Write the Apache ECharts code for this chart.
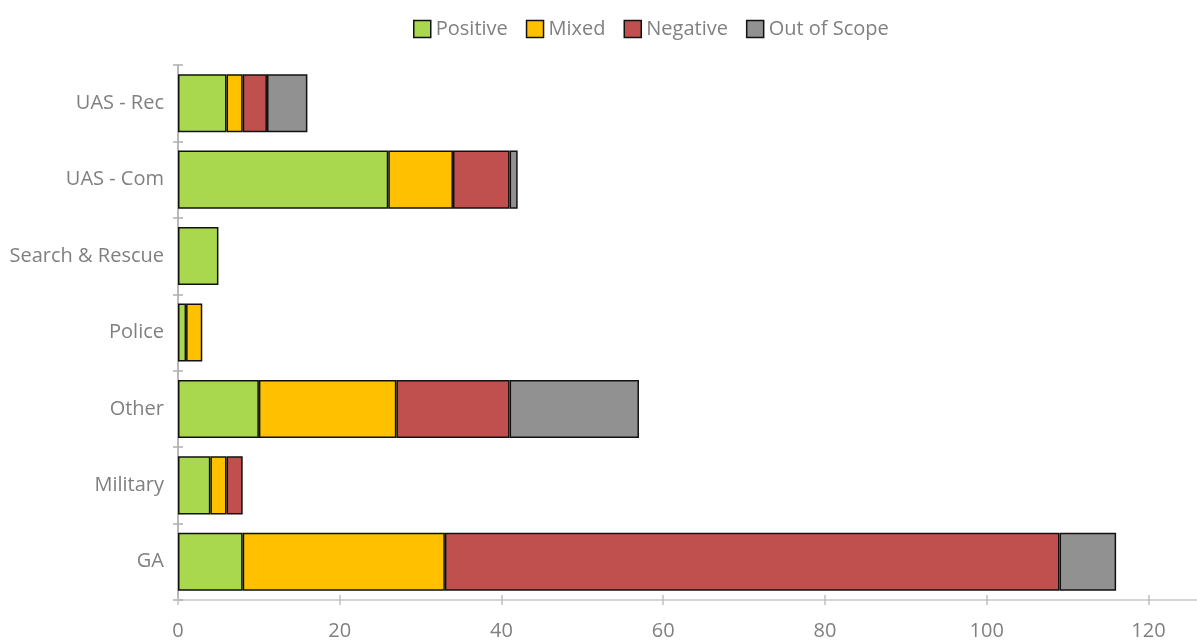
<!DOCTYPE html>
<html>
<head>
<meta charset="utf-8">
<script src="https://cdn.jsdelivr.net/npm/echarts@6/dist/echarts.min.js"></script>
<style>
html, body { margin: 0; padding: 0; background: #fff; }
#chart { width: 1197px; height: 641px; }
</style>
</head>
<body>
<div id="chart"></div>
<script>
// categories bottom to top
var categories = ['GA', 'Military', 'Other', 'Police', 'Search & Rescue', 'UAS - Com', 'UAS - Rec'];
var positive = [8, 4, 10, 1, 5, 26, 6];
var mixed = [25, 2, 17, 2, 0, 8, 2];
var negative = [76, 2, 14, 0, 0, 7, 3];
var outOfScope = [7, 0, 16, 0, 0, 1, 5];
var xTicks = [0, 20, 40, 60, 80, 100, 120];

var names = ['Positive', 'Mixed', 'Negative', 'Out of Scope'];
var colors = ['#a9d84f', '#ffc000', '#c0504d', '#919191'];
var values = [positive, mixed, negative, outOfScope];

var myChart = echarts.init(document.getElementById('chart'));
var txt = '#808080';
var font = 'Open Sans';

var series = [];
for (var i = 0; i < names.length; i++) {
	series.push({
		name: names[i],
		type: 'bar',
		stack: 'total',
		barCategoryGap: '24%',
		data: values[i].map(function(v) { return v === 0 ? null : v; }),
		itemStyle: { color: colors[i], borderColor: '#111', borderWidth: 1.5 }
	});
}

var option = {
	animation: false,
	textStyle: { fontFamily: font },
	legend: {
		top: 14,
		left: 408,
		itemWidth: 17,
		itemHeight: 17,
		itemGap: 18,
		textStyle: { color: txt, fontSize: 20, fontFamily: font },
		data: names.map(function(n, i) {
			return { name: n, icon: 'rect', itemStyle: { color: colors[i], borderColor: '#111', borderWidth: 1.5 } };
		})
	},
	grid: { left: 178, right: 0, top: 65, bottom: 41, containLabel: false },
	xAxis: [{
		type: 'value',
		min: 0,
		max: 126,
		splitLine: { show: false },
		axisLine: { show: true, lineStyle: { color: '#c8c8c8', width: 1.5 } },
		axisTick: { show: true, length: 5, customValues: xTicks, lineStyle: { color: '#c0c0c0', width: 1.5 } },
		axisLabel: { customValues: xTicks, color: txt, fontSize: 20, margin: 21, fontFamily: font }
	}, {
		type: 'value',
		position: 'bottom',
		min: 0,
		max: 126,
		splitLine: { show: false },
		axisLine: { show: false },
		axisTick: { show: true, inside: true, length: 5, customValues: xTicks, lineStyle: { color: '#c0c0c0', width: 1.5 } },
		axisLabel: { show: false }
	}],
	yAxis: [{
		type: 'category',
		data: categories,
		axisLine: { show: true, lineStyle: { color: '#a0a0a0', width: 1.5 } },
		axisTick: { show: true, length: 5, lineStyle: { color: '#b0b0b0', width: 1.5 } },
		axisLabel: { color: txt, fontSize: 20, margin: 14, fontFamily: font }
	}, {
		type: 'category',
		position: 'left',
		data: categories,
		axisLine: { show: false },
		axisTick: { show: true, inside: true, length: 5, lineStyle: { color: '#b0b0b0', width: 1.5 } },
		axisLabel: { show: false }
	}],
	series: series
};
myChart.setOption(option);
</script>
</body>
</html>
